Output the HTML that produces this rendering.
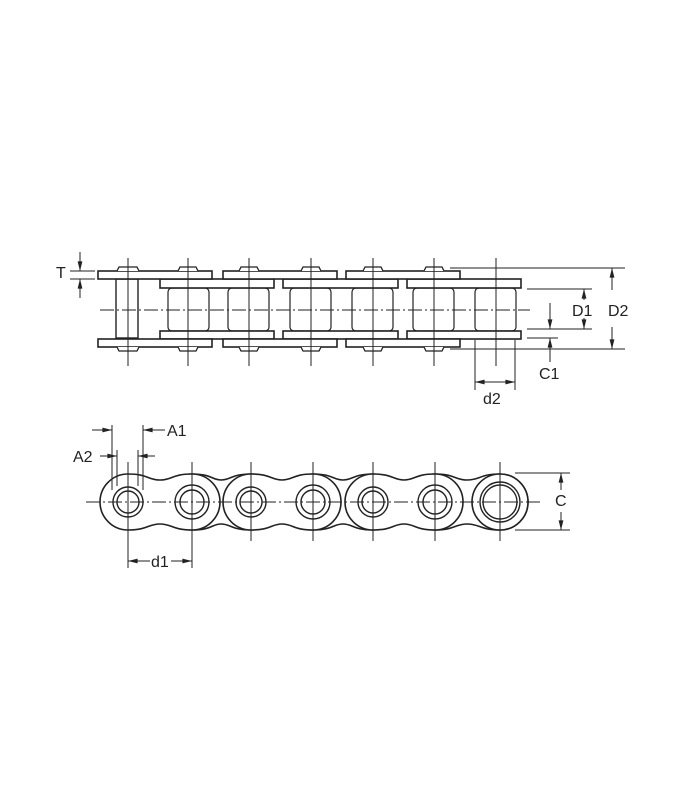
<!DOCTYPE html>
<html><head><meta charset="utf-8"><style>
html,body{margin:0;padding:0;background:#fff;}
svg{display:block;}
text{font-family:"Liberation Sans",sans-serif;font-size:16px;fill:#222;}
</style></head><body>
<svg width="700" height="800" viewBox="0 0 700 800" xmlns="http://www.w3.org/2000/svg">
<defs>
<marker id="a" viewBox="0 0 12 10" refX="12" refY="5" markerWidth="11" markerHeight="8" orient="auto-start-reverse" markerUnits="userSpaceOnUse"><path d="M0,2 L12,5 L0,8 Z" fill="#222"/></marker>
</defs>
<g stroke="#222" stroke-width="1.6" fill="#fff">
<g stroke-width="1.2">
<rect x="168" y="288" width="41" height="43" rx="4"/>
<rect x="228" y="288" width="41" height="43" rx="4"/>
<rect x="290" y="288" width="41" height="43" rx="4"/>
<rect x="352" y="288" width="41" height="43" rx="4"/>
<rect x="413" y="288" width="41" height="43" rx="4"/>
<rect x="475" y="288" width="41" height="43" rx="4"/>
</g>
<rect x="160" y="279" width="114" height="9"/>
<rect x="283" y="279" width="115" height="9"/>
<rect x="407" y="279" width="114" height="9"/>
<rect x="160" y="331" width="114" height="8"/>
<rect x="283" y="331" width="115" height="8"/>
<rect x="407" y="331" width="114" height="8"/>
<rect x="116" y="279" width="22" height="59" stroke-width="1.4"/>
<rect x="98" y="271" width="114" height="8"/>
<rect x="223" y="271" width="114" height="8"/>
<rect x="346" y="271" width="114" height="8"/>
<rect x="98" y="339" width="114" height="8"/>
<rect x="223" y="339" width="114" height="8"/>
<rect x="346" y="339" width="114" height="8"/>
<g stroke-width="1.3">
<path d="M117,271 L119,267 L137,267 L139,271"/><path d="M117,347 L119,351 L137,351 L139,347"/>
<path d="M178,271 L180,267 L196,267 L198,271"/><path d="M178,347 L180,351 L196,351 L198,347"/>
<path d="M239,271 L241,267 L257,267 L259,271"/><path d="M239,347 L241,351 L257,351 L259,347"/>
<path d="M301,271 L303,267 L319,267 L321,271"/><path d="M301,347 L303,351 L319,351 L321,347"/>
<path d="M363,271 L365,267 L381,267 L383,271"/><path d="M363,347 L365,351 L381,351 L383,347"/>
<path d="M424,271 L426,267 L442,267 L444,271"/><path d="M424,347 L426,351 L442,351 L444,347"/>
</g>
</g>
<g stroke="#222" stroke-width="1" fill="none">
<path d="M128,258V366M188,258V366M249,258V366M311,258V366M373,258V366M434,258V366M496,258V366" />
<path d="M100,310H530" stroke-dasharray="14,3,2,3"/>
<path d="M70,271H95M70,279H95"/>
<path d="M80,252V271" marker-end="url(#a)"/>
<path d="M80,298V279" marker-end="url(#a)"/>
<path d="M450,268H625M450,349H625"/>
<path d="M612,290V268" marker-end="url(#a)"/><path d="M612,327V349" marker-end="url(#a)"/>
<path d="M527,289H592M527,329H592"/>
<path d="M584,300V289" marker-end="url(#a)"/><path d="M584,318V329" marker-end="url(#a)"/>
<path d="M527,338H558"/>
<path d="M550,303V329" marker-end="url(#a)"/><path d="M550,362V338" marker-end="url(#a)"/>
<path d="M475,340V390M515,340V390"/>
<path d="M495,382H475" marker-end="url(#a)"/><path d="M495,382H515" marker-end="url(#a)"/>
</g>
<text x="56" y="278">T</text>
<text x="572" y="316">D1</text>
<text x="608" y="316">D2</text>
<text x="539" y="379">C1</text>
<text x="483" y="404">d2</text>

<g stroke="#222" stroke-width="1.6" fill="#fff">
<path d="M192,474 C212,474 212,480 221,480 C231,480 231,474 251,474 A28,28 0 0 1 251,530 C231,530 231,524 221,524 C212,524 212,530 192,530 A28,28 0 0 1 192,474Z"/>
<path d="M313,474 C333,474 333,480 343,480 C353,480 353,474 373,474 A28,28 0 0 1 373,530 C353,530 353,524 343,524 C333,524 333,530 313,530 A28,28 0 0 1 313,474Z"/>
<path d="M435,474 C455,474 455,480 467,480 C480,480 480,474 500,474 A28,28 0 0 1 500,530 C480,530 480,524 467,524 C455,524 455,530 435,530 A28,28 0 0 1 435,474Z"/>
<path d="M128,474 C148,474 148,480 160,480 C172,480 172,474 192,474 A28,28 0 0 1 192,530 C172,530 172,524 160,524 C148,524 148,530 128,530 A28,28 0 0 1 128,474Z"/>
<path d="M251,474 C271,474 271,480 282,480 C293,480 293,474 313,474 A28,28 0 0 1 313,530 C293,530 293,524 282,524 C271,524 271,530 251,530 A28,28 0 0 1 251,474Z"/>
<path d="M373,474 C393,474 393,480 404,480 C415,480 415,474 435,474 A28,28 0 0 1 435,530 C415,530 415,524 404,524 C393,524 393,530 373,530 A28,28 0 0 1 373,474Z"/>
<circle cx="500" cy="502" r="28"/>
<g stroke-width="1.4">
<circle cx="128" cy="502" r="15"/><circle cx="128" cy="502" r="11"/>
<circle cx="192" cy="502" r="17"/><circle cx="192" cy="502" r="12"/>
<circle cx="251" cy="502" r="15"/><circle cx="251" cy="502" r="11"/>
<circle cx="313" cy="502" r="17"/><circle cx="313" cy="502" r="12"/>
<circle cx="373" cy="502" r="15"/><circle cx="373" cy="502" r="11"/>
<circle cx="435" cy="502" r="17"/><circle cx="435" cy="502" r="12"/>
<circle cx="500" cy="502" r="20"/><circle cx="500" cy="502" r="17"/>
</g>
</g>
<g stroke="#222" stroke-width="1" fill="none">
<path d="M128,462V568M192,462V568M251,462V541M313,462V541M373,462V541M435,462V541M500,462V541"/>
<path d="M86,502H540" stroke-dasharray="14,3,2,3"/>
<path d="M112,425V490M143,425V490"/>
<path d="M92,430H112" marker-end="url(#a)"/><path d="M165,430H143" marker-end="url(#a)"/>
<path d="M117,450V486M138,450V486"/>
<path d="M100,456H117" marker-end="url(#a)"/><path d="M155,456H138" marker-end="url(#a)"/>
<path d="M515,473H570M515,530H570"/>
<path d="M561,490V473" marker-end="url(#a)"/><path d="M561,512V530" marker-end="url(#a)"/>
<path d="M150,561H128" marker-end="url(#a)"/><path d="M171,561H192" marker-end="url(#a)"/>
</g>
<text x="167" y="436">A1</text>
<text x="73" y="462">A2</text>
<text x="555" y="506">C</text>
<text x="151" y="567">d1</text>
</svg>
</body></html>
